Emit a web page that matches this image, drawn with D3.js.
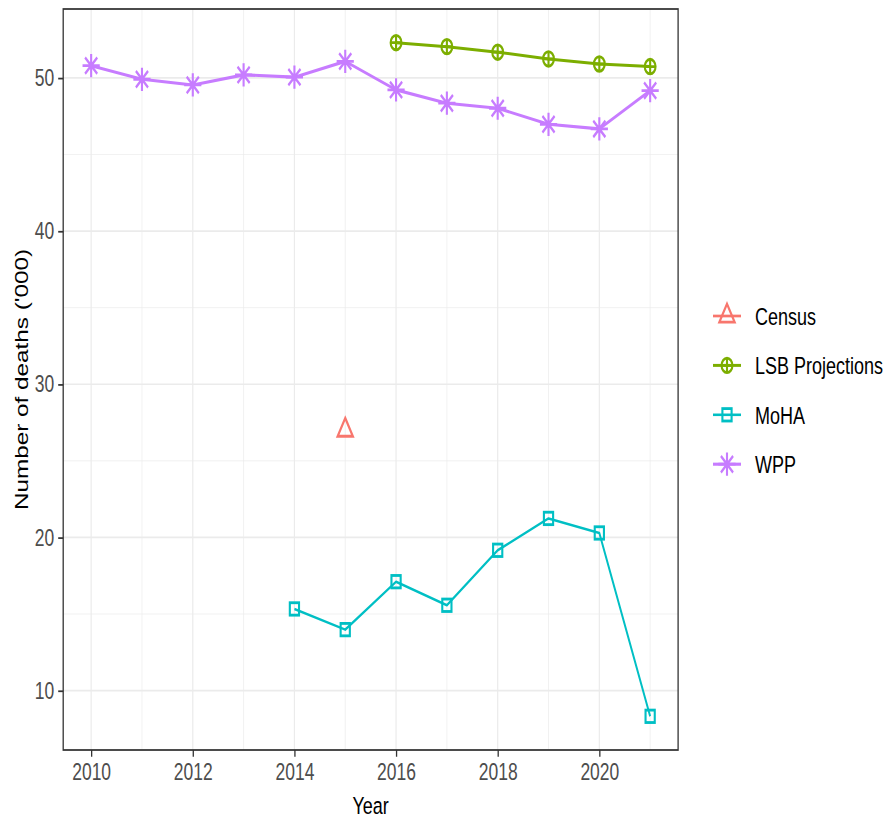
<!DOCTYPE html>
<html>
<head>
<meta charset="utf-8">
<script src="https://cdn.jsdelivr.net/npm/d3@7"></script>
<style>
  html, body { margin: 0; padding: 0; background: #fff; }
  svg { display: block; }
  text { font-family: "Liberation Sans", Arial, sans-serif; }
</style>
</head>
<body>
<svg id="chart"></svg>
<script>
// Deaths ('000) by year and source
const censusYears = [2015];
const censusValues = [27.0];

const lsbYears = [2016, 2017, 2018, 2019, 2020, 2021];
const lsbValues = [52.30, 52.04, 51.68, 51.24, 50.91, 50.74];

const mohaYears = [2014, 2015, 2016, 2017, 2018, 2019, 2020, 2021];
const mohaValues = [15.33, 13.98, 17.11, 15.57, 19.16, 21.24, 20.29, 8.32];

const wppYears = [2010, 2011, 2012, 2013, 2014, 2015, 2016, 2017, 2018, 2019, 2020, 2021];
const wppValues = [50.80, 49.91, 49.54, 50.20, 50.05, 51.08, 49.22, 48.35, 48.02, 46.97, 46.67, 49.17];

const xTicks = [2010, 2012, 2014, 2016, 2018, 2020];
const xMinor = [2011, 2013, 2015, 2017, 2019, 2021];
const yTicks = [10, 20, 30, 40, 50];
const yMinor = [15, 25, 35, 45];

const seriesNames = ["Census", "LSB Projections", "MoHA", "WPP"];
const seriesColors = ["#F8766D", "#7CAE00", "#00BFC4", "#C77CFF"];
const seriesShapes = ["triangle", "circleplus", "square", "asterisk"];
const seriesWidths = [2.0, 2.2, 1.9, 2.3];

const series = [
  { years: censusYears, values: censusValues },
  { years: lsbYears, values: lsbValues },
  { years: mohaYears, values: mohaValues },
  { years: wppYears, values: wppValues }
].map((s, i) => ({
  name: seriesNames[i], color: seriesColors[i], shape: seriesShapes[i], width: seriesWidths[i],
  points: s.years.map((y, j) => ({ year: y, value: s.values[j] }))
}));

// The drawing is laid out in a coordinate system that is stretched vertically to fill the page
const W = 885, H = 819, SY = 1.35;
const VH = H / SY;

const svg = d3.select("#chart")
  .attr("width", W).attr("height", H)
  .attr("viewBox", `0 0 ${W} ${VH}`)
  .attr("preserveAspectRatio", "none");

const panel = { left: 63.2, right: 678.1, top: 9 / SY, bottom: 750 / SY };

// ggplot-style 5% expansion of the data range
const allYears = series.flatMap(s => s.points.map(p => p.year));
const allVals = series.flatMap(s => s.points.map(p => p.value));
const xr = d3.extent(allYears), yr = d3.extent(allVals);
const xPad = (xr[1] - xr[0]) * 0.05, yPad = (yr[1] - yr[0]) * 0.05;

const x = d3.scaleLinear().domain([xr[0] - xPad, xr[1] + xPad]).range([panel.left, panel.right]);
const y = d3.scaleLinear().domain([yr[0] - yPad, yr[1] + yPad]).range([panel.bottom, panel.top]);

const g = svg.append("g");

// grid
g.selectAll(".ymin").data(yMinor).join("line")
  .attr("x1", panel.left).attr("x2", panel.right)
  .attr("y1", d => y(d)).attr("y2", d => y(d))
  .attr("stroke", "#ebebeb").attr("stroke-width", 0.6);
g.selectAll(".xmin").data(xMinor).join("line")
  .attr("y1", panel.top).attr("y2", panel.bottom)
  .attr("x1", d => x(d)).attr("x2", d => x(d))
  .attr("stroke", "#ebebeb").attr("stroke-width", 0.6);
g.selectAll(".ymaj").data(yTicks).join("line")
  .attr("x1", panel.left).attr("x2", panel.right)
  .attr("y1", d => y(d)).attr("y2", d => y(d))
  .attr("stroke", "#ebebeb").attr("stroke-width", 1.2);
g.selectAll(".xmaj").data(xTicks).join("line")
  .attr("y1", panel.top).attr("y2", panel.bottom)
  .attr("x1", d => x(d)).attr("x2", d => x(d))
  .attr("stroke", "#ebebeb").attr("stroke-width", 1.2);

// marker shapes
function drawShape(sel, shape, color, cx, cy) {
  const sw = 2.1;
  if (shape === "triangle") {
    const hw = 7.6, top = 9.0, bot = 4.5;
    sel.append("path")
      .attr("d", `M${cx},${cy - top}L${cx + hw},${cy + bot}L${cx - hw},${cy + bot}Z`)
      .attr("fill", "none").attr("stroke", color).attr("stroke-width", sw).attr("stroke-linejoin", "miter");
  } else if (shape === "circleplus") {
    const r = 5.4;
    sel.append("circle").attr("cx", cx).attr("cy", cy).attr("r", r)
      .attr("fill", "none").attr("stroke", color).attr("stroke-width", sw);
    sel.append("path").attr("d", `M${cx - r},${cy}H${cx + r}M${cx},${cy - r}V${cy + r}`)
      .attr("stroke", color).attr("stroke-width", sw);
  } else if (shape === "square") {
    const h = 4.6;
    sel.append("rect").attr("x", cx - h).attr("y", cy - h).attr("width", 2 * h).attr("height", 2 * h)
      .attr("fill", "none").attr("stroke", color).attr("stroke-width", sw);
  } else if (shape === "asterisk") {
    const r = 8.6, d = r * Math.SQRT1_2;
    sel.append("path")
      .attr("d", `M${cx - r},${cy}H${cx + r}M${cx},${cy - r}V${cy + r}M${cx - d},${cy - d}L${cx + d},${cy + d}M${cx - d},${cy + d}L${cx + d},${cy - d}`)
      .attr("stroke", color).attr("stroke-width", sw);
  }
}

// lines
const line = d3.line().x(d => x(d.year)).y(d => y(d.value));
series.forEach(s => {
  if (s.points.length > 1) {
    g.append("path").datum(s.points).attr("d", line)
      .attr("fill", "none").attr("stroke", s.color).attr("stroke-width", s.width)
      .attr("stroke-linejoin", "round");
  }
});
// points
series.forEach(s => {
  const pg = g.append("g");
  s.points.forEach(p => drawShape(pg, s.shape, s.color, x(p.year), y(p.value)));
});

// panel border
g.append("rect")
  .attr("x", panel.left).attr("y", panel.top)
  .attr("width", panel.right - panel.left).attr("height", panel.bottom - panel.top)
  .attr("fill", "none").attr("stroke", "#333333").attr("stroke-width", 1.3);

// axes
const xAxis = d3.axisBottom(x).tickValues(xTicks).tickFormat(d3.format("d")).tickSize(5).tickPadding(5);
const yAxis = d3.axisLeft(y).tickValues(yTicks).tickSize(5).tickPadding(4);

const gx = svg.append("g").attr("transform", `translate(0,${panel.bottom})`).call(xAxis);
const gy = svg.append("g").attr("transform", `translate(${panel.left},0)`).call(yAxis);
[gx, gy].forEach(a => {
  a.select(".domain").remove();
  a.selectAll(".tick line").attr("stroke", "#333333").attr("stroke-width", 1.3);
  a.selectAll(".tick text").attr("fill", "#4d4d4d").attr("font-size", 17.5)
    .style("font-family", '"Liberation Sans", Arial, sans-serif');
});

// axis titles
svg.append("text")
  .attr("x", (panel.left + panel.right) / 2).attr("y", 814 / SY)
  .attr("text-anchor", "middle").attr("font-size", 18).attr("fill", "#000")
  .text("Year");
svg.append("text")
  .attr("transform", `translate(28,${(panel.top + panel.bottom) / 2}) rotate(-90)`)
  .attr("text-anchor", "middle").attr("font-size", 18).attr("fill", "#000")
  .text("Number of deaths ('000)");

// legend
const legY0 = 316 / SY, legStep = 49.4 / SY;
const leg = svg.append("g");
series.forEach((s, i) => {
  const cy = legY0 + i * legStep;
  leg.append("line").attr("x1", 713).attr("x2", 741).attr("y1", cy).attr("y2", cy)
    .attr("stroke", s.color).attr("stroke-width", s.width);
  drawShape(leg, s.shape, s.color, 727, cy);
  leg.append("text").attr("x", 755).attr("y", cy).attr("dy", "0.36em")
    .attr("font-size", 18).attr("fill", "#000").text(s.name);
});
</script>
</body>
</html>
